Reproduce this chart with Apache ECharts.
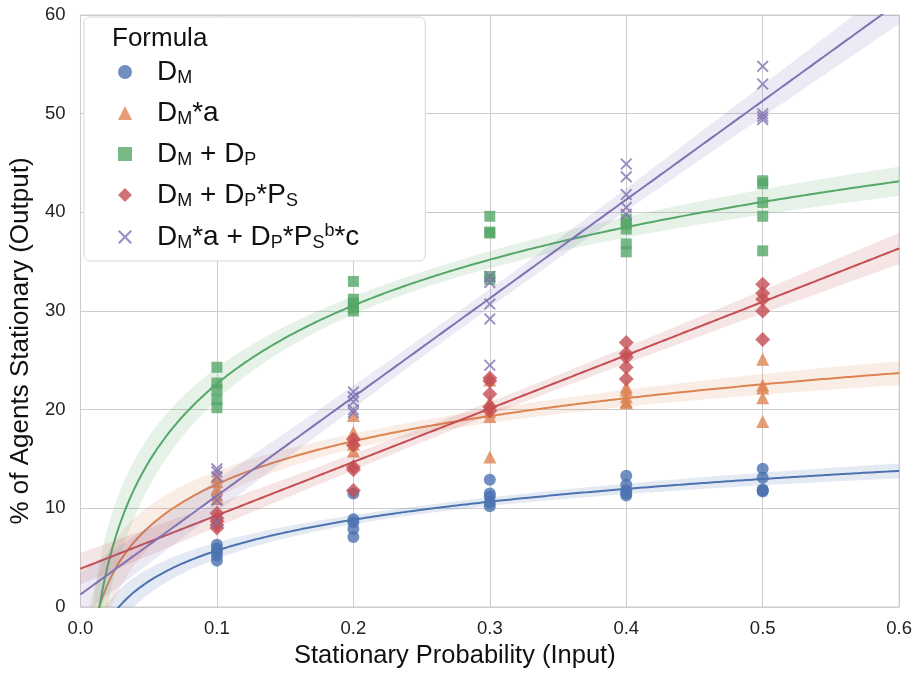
<!DOCTYPE html>
<html>
<head>
<meta charset="utf-8">
<script src="https://cdn.jsdelivr.net/npm/echarts@6/dist/echarts.min.js"></script>
<style>
html,body{margin:0;padding:0;background:#fff}
#chart{width:915px;height:677px}
</style>
</head>
<body>
<div id="chart"></div>
<script>
// input probabilities, 5 runs each
var xs = [0.1, 0.2, 0.3, 0.4, 0.5];
// % of agents stationary, one row per input value
var dM      = [[6.3,5.9,5.6,5.2,4.7],[11.5,8.9,8.6,7.9,7.1],[12.9,11.5,11.2,10.6,10.2],[13.3,12.4,11.8,11.5,11.3],[14.0,13.1,11.9,11.7,11.8]];
var dMa     = [[13.2,12.7,12.0,11.4,11.0],[19.4,17.7,17.0,16.5,15.8],[23.0,20.8,19.8,19.3,15.2],[22.3,22.0,21.3,20.8,20.7],[25.1,22.5,22.2,21.2,18.8]];
var dMdP    = [[24.3,22.7,22.0,21.0,20.2],[33.0,31.2,30.8,30.3,30.0],[39.6,38.0,37.9,33.5,33.2],[39.3,38.8,38.3,36.8,36.0],[43.2,42.9,41.0,39.6,36.1]];
var dMdPPs  = [[9.5,9.0,8.7,8.3,8.0],[17.0,16.4,14.2,13.9,11.8],[23.2,22.9,21.6,20.3,19.9],[26.8,25.7,25.3,24.3,23.1],[32.7,31.8,31.2,30.0,27.1]];
var full    = [[14.0,13.7,13.2,10.8,8.6],[21.8,21.3,20.8,20.0,19.7],[33.5,32.9,30.7,29.2,24.5],[44.9,43.6,41.8,40.5,39.8],[54.8,53.0,50.0,49.7,49.4]];

var names = ['DM', 'DM*a', 'DM + DP', 'DM + DP*PS', 'DM*a + DP*PSb*c'];
var labels = [
    '{t|D}{s|M}',
    '{t|D}{s|M}{t|*a}',
    '{t|D}{s|M}{t| + D}{s|P}',
    '{t|D}{s|M}{t| + D}{s|P}{t|*P}{s|S}',
    '{t|D}{s|M}{t|*a + D}{s|P}{t|*P}{s|S}{p|b}{t|*c}'
];
var colors = ['#4C72B0', '#DD8452', '#55A868', '#C44E52', '#8172B3'];
var symbols = ['circle', 'triangle', 'rect', 'diamond',
    'path://M0,1.1L1.1,0L5,3.9L8.9,0L10,1.1L6.1,5L10,8.9L8.9,10L5,6.1L1.1,10L0,8.9L3.9,5Z'];
var sizes = [12, 13, 11, 15, 12];
var logFit = [true, true, true, false, false];
var groups = [dM, dMa, dMdP, dMdPPs, full];

var FONT = '"Liberation Sans", Arial, sans-serif';

// least squares fit (x or log x) with 95% band, like seaborn regplot
function regress(rows, useLog) {
    var px = [], py = [];
    rows.forEach(function (r, i) {
        r.forEach(function (v) {
            px.push(useLog ? Math.log(xs[i]) : xs[i]);
            py.push(v);
        });
    });
    var n = px.length, mx = 0, my = 0;
    for (var i = 0; i < n; i++) { mx += px[i]; my += py[i]; }
    mx /= n; my /= n;
    var sxx = 0, sxy = 0;
    for (i = 0; i < n; i++) { sxx += (px[i]-mx)*(px[i]-mx); sxy += (px[i]-mx)*(py[i]-my); }
    var b = sxy / sxx, a = my - b * mx, ss = 0;
    for (i = 0; i < n; i++) { var e = py[i] - a - b*px[i]; ss += e*e; }
    var s2 = ss / (n - 2);
    var line = [], lo = [], hi = [];
    for (var x = useLog ? 0.006 : 0; x <= 0.6001; x += 0.002) {
        var u = useLog ? Math.log(x) : x;
        var yv = a + b * u;
        var se = Math.sqrt(s2 * (1/n + (u-mx)*(u-mx)/sxx));
        line.push([x, yv]);
        lo.push([x, yv - 1.96*se]);
        hi.push([x, yv + 1.96*se]);
    }
    return {line: line, lo: lo, hi: hi};
}

var series = [];
groups.forEach(function (rows, k) {
    var pts = [];
    rows.forEach(function (r, i) { r.forEach(function (v) { pts.push([xs[i], v]); }); });
    var fit = regress(rows, logFit[k]);
    series.push({
        name: names[k],
        type: 'scatter',
        data: pts,
        symbol: symbols[k],
        symbolSize: sizes[k],
        itemStyle: {color: colors[k], opacity: 0.8},
        z: 10 + k * 3
    });
    series.push({
        type: 'custom',
        clip: true,
        silent: true,
        data: [[0, 0]],
        z: 11 + k * 3,
        renderItem: (function (f, c) {
            return function (params, api) {
                var poly = [];
                f.hi.forEach(function (p) { poly.push(api.coord(p)); });
                for (var j = f.lo.length - 1; j >= 0; j--) poly.push(api.coord(f.lo[j]));
                return {type: 'polygon', shape: {points: poly}, style: {fill: c, opacity: 0.15}};
            };
        })(fit, colors[k])
    });
    series.push({
        type: 'line',
        data: fit.line,
        showSymbol: false,
        clip: true,
        silent: true,
        lineStyle: {color: colors[k], width: 2},
        z: 12 + k * 3
    });
});

var chart = echarts.init(document.getElementById('chart'));
chart.setOption({
    animation: false,
    backgroundColor: '#fff',
    grid: {left: 79, right: 15, top: 15, bottom: 70, show: true, borderColor: '#cccccc', borderWidth: 1},
    xAxis: {
        type: 'value', min: 0, max: 0.6, interval: 0.1,
        name: 'Stationary Probability (Input)', nameLocation: 'middle', nameGap: 31,
        nameTextStyle: {fontSize: 25.5, color: '#111', fontFamily: FONT, padding: [0, 70, 0, 0]},
        axisLine: {show: false}, axisTick: {show: false},
        axisLabel: {fontSize: 18.5, color: '#222', fontFamily: FONT, margin: 12,
            formatter: function (v) { return v.toFixed(1); }},
        splitLine: {lineStyle: {color: '#cccccc', width: 1}}
    },
    yAxis: {
        type: 'value', min: 0, max: 60, interval: 10,
        name: '% of Agents Stationary (Output)', nameLocation: 'middle', nameGap: 34,
        nameTextStyle: {fontSize: 26, color: '#111', fontFamily: FONT, padding: [0, 60, 0, 0]},
        axisLine: {show: false}, axisTick: {show: false},
        axisLabel: {fontSize: 18.5, color: '#222', fontFamily: FONT, margin: 15},
        splitLine: {lineStyle: {color: '#cccccc', width: 1}}
    },
    legend: {
        data: names,
        orient: 'vertical',
        left: 84, top: 17,
        padding: [41, 66, 9, 34],
        itemGap: 12,
        itemWidth: 14, itemHeight: 14,
        backgroundColor: '#fff',
        borderColor: '#d6d6d6', borderWidth: 1, borderRadius: 6,
        z: 20,
        formatter: function (name) { return labels[names.indexOf(name)]; },
        textStyle: {
            padding: [0, 0, 0, 20],
            fontFamily: FONT,
            rich: {
                t: {fontSize: 28, lineHeight: 30, color: '#111', fontFamily: FONT},
                s: {fontSize: 18, lineHeight: 17, verticalAlign: 'bottom', color: '#111', fontFamily: FONT},
                p: {fontSize: 18, lineHeight: 17, verticalAlign: 'top', color: '#111', fontFamily: FONT}
            }
        }
    },
    graphic: [{
        type: 'text', z: 100, left: 112, top: 26,
        style: {text: 'Formula', fontSize: 26, fill: '#111', fontFamily: FONT}
    }],
    series: series
});
</script>
</body>
</html>
